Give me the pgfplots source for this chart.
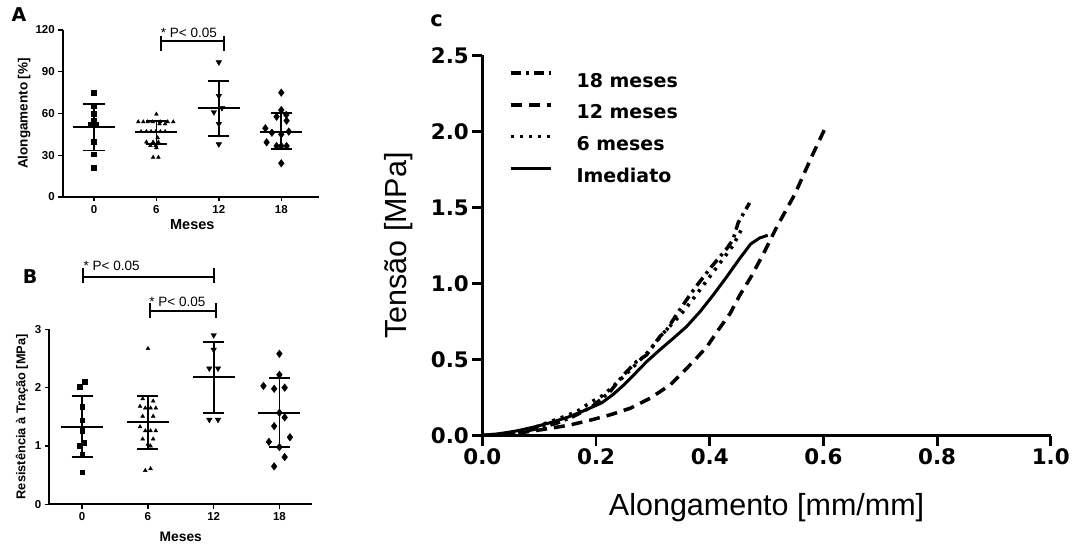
\documentclass[border=0pt]{standalone}
\usepackage{fontspec}
\setmainfont{Liberation Sans}
\newfontfamily\dejavu{DejaVu Sans}
\usepackage{pgfplots}
\pgfplotsset{compat=1.18}

\pgfplotsset{
  panel/.style={
    scale only axis, anchor=south west,
    axis lines=left, axis line style={-, line width=1.6pt},
    tick align=outside, major tick length=4.5pt,
    tick style={black, line width=1.4pt},
    xmin=-0.5, xtick={0,1,2,3}, xticklabels={0,6,12,18},
    ymin=0, clip=false, unbounded coords=jump,
    ticklabel style={font=\bfseries\fontsize{11.5}{13}\selectfont},
    /pgf/number format/assume math mode=true,
  },
  sd/.style={black, line width=1.8pt, no markers},
  sig/.style={black, line width=2pt, no markers},
  pts/.style={only marks, black, mark options={fill=black}},
}

\begin{document}
\begin{tikzpicture}[x=1pt,y=1pt]
\path[use as bounding box] (0,0) rectangle (1072,544);

\node[font=\dejavu\bfseries\fontsize{19}{20}\selectfont] at (19,529) {A};
\node[font=\dejavu\bfseries\fontsize{19}{20}\selectfont] at (30,267.3) {B};
\node[font=\dejavu\bfseries\fontsize{21}{24}\selectfont] at (436.5,523.2) {c};

% ---- A: elongation
\begin{axis}[panel, at={(62.75pt,347pt)}, width=256pt, height=167pt,
  xmax=3.6, ymax=120, ytick={0,30,60,90,120},
  xlabel={\bfseries Meses}, ylabel={\bfseries Alongamento [\%]},
  xlabel style={font=\fontsize{14.5}{16}\selectfont, at={(axis description cs:0.506,-0.168)}, anchor=center},
  ylabel style={font=\fontsize{13.5}{15}\selectfont, at={(axis description cs:-0.151,0.5)}, anchor=center}]
\addplot[pts, mark=square*, mark size=2.4pt] coordinates {
  (0,75) (0,65.5) (0,60) (0,55) (-0.05,52) (0.03,52) (0,39.5) (0,30.7) (0,21)};
\addplot[pts, mark=triangle*, mark size=2.2pt] coordinates {
  (1,59.5) (0.71,54) (0.79,54) (0.86,54) (0.94,54) (1.06,54) (1.18,54) (1.27,54)
  (1.05,52.5) (1.14,52.5) (0.755,47) (0.84,47) (0.915,47) (0.99,47) (1.064,47) (1.14,47)
  (1.02,42.6) (0.84,39.5) (0.947,39.5) (1.032,39.5) (0.904,37) (0.99,37) (1,35.4)
  (0.947,28.5) (1.032,28.5)};
\addplot[pts, mark=triangle*, mark size=3.2pt, mark options={rotate=180}] coordinates {
  (2,96.8) (2,72.6) (1.92,61) (2.05,64) (2,52.5) (2,37.9)};
\addplot[pts, mark=diamond*, mark size=3.8pt] coordinates {
  (3,75) (3,62.5) (2.925,57.7) (3.085,54.8) (2.745,49.4) (2.85,46.2) (3,45) (3.12,47)
  (2.765,39.3) (2.925,36.6) (3,36.6) (3.085,36.6) (3,24.2) (3.08,59)};
\addplot[sd] coordinates {
  (-0.335,50.3) (0.335,50.3) (nan,nan) (-0.17,67) (0.17,67) (nan,nan) (0,67) (0,33.4) (nan,nan) (-0.17,33.4) (0.17,33.4) (nan,nan)
  (0.665,46.7) (1.335,46.7) (nan,nan) (0.83,54.8) (1.17,54.8) (nan,nan) (1,54.8) (1,38.3) (nan,nan) (0.83,38.3) (1.17,38.3) (nan,nan)
  (1.665,63.7) (2.335,63.7) (nan,nan) (1.83,83.6) (2.17,83.6) (nan,nan) (2,83.6) (2,43.8) (nan,nan) (1.83,43.8) (2.17,43.8) (nan,nan)
  (2.665,46.9) (3.335,46.9) (nan,nan) (2.83,60.1) (3.17,60.1) (nan,nan) (3,60.1) (3,34.3) (nan,nan) (2.83,34.3) (3.17,34.3)};
\addplot[sig] coordinates {(1.08,104.9) (1.08,115.9) (nan,nan) (1.08,112.3) (2.08,112.3) (nan,nan) (2.08,104.9) (2.08,115.9)};
\node[anchor=west, inner sep=0pt, font=\fontsize{13.5}{15}\selectfont] at (axis cs:1.07,118) {* P< 0.05};
\end{axis}

% ---- B: tensile strength
\begin{axis}[panel, at={(49.3pt,39.7pt)}, width=263pt, height=175pt,
  xmax=3.5, ymax=3, ytick={0,1,2,3},
  xlabel={\bfseries Meses}, ylabel={\bfseries Resistência à Tração [MPa]},
  xlabel style={font=\fontsize{13.8}{15}\selectfont, at={(axis description cs:0.5,-0.187)}, anchor=center},
  ylabel style={font=\fontsize{12.8}{14}\selectfont, at={(axis description cs:-0.104,0.5)}, anchor=center}]
\addplot[pts, mark=square*, mark size=2.4pt] coordinates {
  (0.04,2.10) (-0.04,2.01) (0,1.67) (0,1.44) (0,1.26) (-0.04,1.005) (0.03,1.05) (0,0.85) (0,0.55)};
\addplot[pts, mark=triangle*, mark size=2.2pt] coordinates {
  (1,2.67) (0.92,1.81) (1.08,1.77) (0.88,1.68) (0.96,1.65) (1.04,1.65) (1.12,1.65)
  (0.92,1.51) (1.08,1.51) (0.88,1.33) (0.96,1.26) (1.04,1.26) (1.12,1.26)
  (0.92,1.12) (1.08,1.12) (1,1.03) (1.04,1.0) (0.96,0.58) (1.04,0.61)};
\addplot[pts, mark=triangle*, mark size=3.2pt, mark options={rotate=180}] coordinates {
  (2,2.90) (2,2.65) (1.934,2.33) (2.066,2.33) (1.934,1.45) (2.066,1.45)};
\addplot[pts, mark=diamond*, mark size=3.8pt] coordinates {
  (3,2.58) (3,2.22) (2.757,2.03) (2.92,1.98) (3.08,2.0) (3,1.57) (3.08,1.49) (2.92,1.34)
  (3.16,1.15) (2.84,1.07) (3,0.98) (3.08,0.81) (2.92,0.65)};
\addplot[sd] coordinates {
  (-0.32,1.33) (0.32,1.33) (nan,nan) (-0.16,1.85) (0.16,1.85) (nan,nan) (0,1.85) (0,0.81) (nan,nan) (-0.16,0.81) (0.16,0.81) (nan,nan)
  (0.68,1.41) (1.32,1.41) (nan,nan) (0.84,1.86) (1.16,1.86) (nan,nan) (1,1.86) (1,0.95) (nan,nan) (0.84,0.95) (1.16,0.95) (nan,nan)
  (1.68,2.18) (2.32,2.18) (nan,nan) (1.84,2.78) (2.16,2.78) (nan,nan) (2,2.78) (2,1.56) (nan,nan) (1.84,1.56) (2.16,1.56) (nan,nan)
  (2.68,1.57) (3.32,1.57) (nan,nan) (2.84,2.16) (3.16,2.16) (nan,nan) (3,2.16) (3,0.98) (nan,nan) (2.84,0.98) (3.16,0.98)};
\addplot[sig] coordinates {(0.015,3.79) (0.015,4.05) (nan,nan) (0.015,3.89) (2.01,3.89) (nan,nan) (2.01,3.79) (2.01,4.05)};
\addplot[sig] coordinates {(1.026,3.19) (1.026,3.45) (nan,nan) (1.026,3.32) (2.03,3.32) (nan,nan) (2.03,3.19) (2.03,3.45)};
\node[anchor=west, inner sep=0pt, font=\fontsize{13.5}{15}\selectfont] at (axis cs:0.02,4.09) {* P< 0.05};
\node[anchor=west, inner sep=0pt, font=\fontsize{13.5}{15}\selectfont] at (axis cs:1.02,3.475) {* P< 0.05};
\end{axis}

% ---- C: stress-strain curves
\begin{axis}[scale only axis, anchor=south west, at={(482.4pt,108.5pt)},
  width=568.4pt, height=380pt,
  xmin=0, xmax=1, ymin=0, ymax=2.5,
  axis lines=left, axis line style={-, line width=2.8pt},
  tick align=outside, major tick length=10pt, tick style={black, line width=2.8pt},
  xtick={0,0.2,0.4,0.6,0.8,1}, ytick={0,0.5,1,1.5,2,2.5},
  ticklabel style={font=\dejavu\bfseries\fontsize{21.4}{24}\selectfont,
    /pgf/number format/.cd, fixed, fixed zerofill, precision=1},
  /pgf/number format/assume math mode=true,
  xlabel={Alongamento [mm/mm]}, ylabel={Tensão [MPa]},
  label style={font=\fontsize{30.5}{34}\selectfont},
  xlabel style={at={(axis description cs:0.5,-0.191)}, anchor=center},
  ylabel style={at={(axis description cs:-0.147,0.5)}, anchor=center},
  legend cell align=left,
  legend style={draw=none, fill=none, inner sep=0pt, at={(axis description cs:0.0473,0.959)},
    anchor=north west, row sep=16pt, font=\dejavu\bfseries\fontsize{19}{22}\selectfont,
    nodes={inner sep=0pt, text height=14pt, text depth=0pt}},
  legend image code/.code={\draw[#1] (0pt,7pt) -- (40pt,7pt); \path (63.6pt,7pt);},
  every axis plot/.append style={black, line width=3.5pt, no markers}]
\addplot[dash pattern=on 10pt off 5pt on 3pt off 5pt] coordinates {
  (0,0) (0.05,0.012) (0.09,0.04) (0.13,0.08) (0.16,0.125) (0.193,0.19) (0.225,0.29)
  (0.248,0.398) (0.271,0.486) (0.289,0.53) (0.312,0.65) (0.324,0.694) (0.345,0.815)
  (0.365,0.924) (0.38,1.0) (0.403,1.11) (0.43,1.23) (0.441,1.29) (0.45,1.40) (0.47,1.53)};
\addplot[dash pattern=on 11pt off 7pt] coordinates {
  (0,0) (0.05,0.01) (0.09,0.03) (0.119,0.047) (0.154,0.069) (0.189,0.10) (0.224,0.135)
  (0.26,0.179) (0.295,0.245) (0.33,0.332) (0.348,0.398) (0.371,0.486) (0.395,0.584)
  (0.415,0.694) (0.436,0.804) (0.453,0.924) (0.472,1.04) (0.495,1.20) (0.519,1.38)
  (0.55,1.59) (0.58,1.84) (0.604,2.03)};
\addplot[dash pattern=on 3pt off 6pt] coordinates {
  (0,0) (0.05,0.015) (0.08,0.035) (0.10,0.065) (0.137,0.115) (0.166,0.157) (0.189,0.215)
  (0.213,0.266) (0.242,0.365) (0.26,0.43) (0.289,0.54) (0.318,0.672) (0.35,0.80)
  (0.371,0.90) (0.395,1.02) (0.415,1.12) (0.441,1.25) (0.455,1.35)};
\addplot[solid, line width=3pt] coordinates {
  (0,0) (0.03,0.012) (0.06,0.03) (0.09,0.055) (0.12,0.085) (0.15,0.12) (0.18,0.165)
  (0.21,0.215) (0.23,0.27) (0.248,0.33) (0.268,0.405) (0.289,0.486) (0.312,0.563)
  (0.336,0.64) (0.359,0.716) (0.383,0.815) (0.406,0.924) (0.43,1.045) (0.453,1.166)
  (0.472,1.26) (0.488,1.30) (0.502,1.317)};
\legend{18 meses, 12 meses, 6 meses, Imediato}
\end{axis}
\end{tikzpicture}
\end{document}
